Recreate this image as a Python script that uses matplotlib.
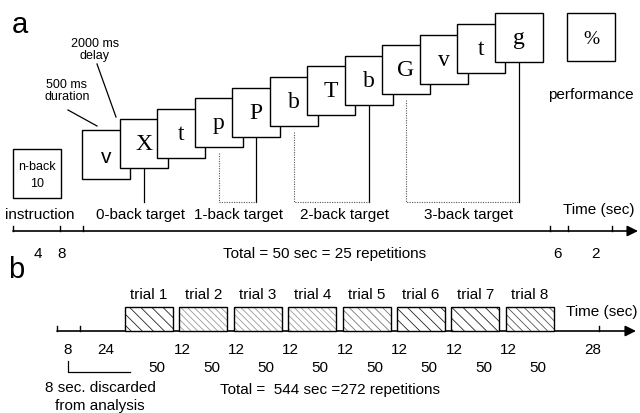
import matplotlib
matplotlib.use("Agg")
import matplotlib.pyplot as plt
from matplotlib.patches import Rectangle

plt.rcParams['font.family'] = ['Liberation Sans', 'DejaVu Sans']
plt.rcParams['hatch.linewidth'] = 0.6

# --- данные схемы ---
letters = ['v', 'X', 't', 'p', 'P', 'b', 'T', 'b', 'G', 'v', 't', 'g']
targets = ['0-back target', '1-back target', '2-back target', '3-back target']
target_pairs = [(1, 1), (3, 4), (5, 7), (8, 11)]
ticks_a = ['4', '8', '6', '2']
total_a = 'Total = 50 sec = 25 repetitions'

trials = ['trial 1', 'trial 2', 'trial 3', 'trial 4',
          'trial 5', 'trial 6', 'trial 7', 'trial 8']
rest_b = ['12'] * 7
block_b = ['50'] * 8
ticks_b = ['8', '24', '28']
total_b = 'Total =  544 sec =272 repetitions'

fig = plt.figure(figsize=(6.4, 4.14), dpi=100)
ax = fig.add_axes([0, 0, 1, 1])
ax.set_xlim(0, 640)
ax.set_ylim(414, 0)
ax.axis('off')

fs = 11
serif = ['Liberation Serif', 'DejaVu Serif']

# ---------------- панель a ----------------
ax.text(12, 25, 'a', fontsize=21, va='center', ha='left')

# стимулы лесенкой
bw, bh = 48, 49
x0, y0, dx, dy = 82, 131, 37.5, -10.6
centers = []
for i, ch in enumerate(letters):
    x = x0 + i * dx
    y = y0 + i * dy
    ax.add_patch(Rectangle((x, y), bw, bh, facecolor='white', edgecolor='k',
                           lw=1.0, zorder=2 + i))
    if i == 0:
        ax.text(x + bw / 2, y + bh / 2 + 2, ch, fontsize=15, ha='center',
                va='center', zorder=2 + i)
    else:
        ax.text(x + bw / 2, y + bh / 2, ch, fontsize=17, family=serif,
                ha='center', va='center', zorder=2 + i)
    centers.append((x + bw / 2, y + bh))

# линии целей
ybot = 203
for k, (a, b) in enumerate(target_pairs):
    xb, yb = centers[b]
    ax.plot([xb, xb], [yb, ybot], color='k', lw=0.9, zorder=1)
    if a != b:
        xa, ya = centers[a]
        ax.plot([xa, xa, xb], [ya + 6, ybot, ybot], color='#555', lw=0.8,
                ls=(0, (1, 1.2)), zorder=1)

# инструкция и результат
ax.add_patch(Rectangle((13, 150), 48, 49, facecolor='white', edgecolor='k', lw=1.0))
ax.text(37, 167, 'n-back', fontsize=9, ha='center', va='center')
ax.text(37, 184, '10', fontsize=9, ha='center', va='center')
ax.add_patch(Rectangle((567, 14), 48, 48, facecolor='white', edgecolor='k', lw=1.0))
ax.text(591, 39, '%', fontsize=14, family=serif, ha='center', va='center')
ax.text(591, 95, 'performance', fontsize=fs, ha='center', va='center')

# пояснения
ax.text(95, 50, '2000 ms\ndelay', fontsize=9, ha='center', va='center',
        linespacing=1.1)
ax.plot([97, 116], [65, 118], color='k', lw=0.9)
ax.text(67, 91, '500 ms\nduration', fontsize=9, ha='center', va='center',
        linespacing=1.1)
ax.plot([68, 97], [111, 127], color='k', lw=0.9)

# подписи целей
ax.text(40, 215, 'instruction', fontsize=fs, ha='center', va='center')
for lab, xc in zip(targets, [141, 238, 345, 468]):
    ax.text(xc, 215, lab, fontsize=fs, ha='center', va='center')
ax.text(599, 210, 'Time (sec)', fontsize=fs, ha='center', va='center')

# ось времени a
ya = 232
ax.annotate('', xy=(638, ya), xytext=(13, ya),
            arrowprops=dict(arrowstyle='-|>', mutation_scale=16, lw=1.2,
                            color='k', shrinkA=0, shrinkB=0))
for xt in [13, 60, 83, 550, 568, 612]:
    ax.plot([xt, xt], [ya, ya - 5], color='k', lw=1.0)
for lab, xt in zip(ticks_a, [38, 62, 557, 595]):
    ax.text(xt, 254, lab, fontsize=fs, ha='center', va='center')
ax.text(325, 254, total_a, fontsize=fs, ha='center', va='center')

# ---------------- панель b ----------------
ax.text(8, 270, 'b', fontsize=21, va='center', ha='left')

yb = 332
ax.annotate('', xy=(636, yb), xytext=(57, yb),
            arrowprops=dict(arrowstyle='-|>', mutation_scale=16, lw=1.2,
                            color='k', shrinkA=0, shrinkB=0))
for xt in [57, 80, 599]:
    ax.plot([xt, xt], [yb, yb - 5], color='k', lw=1.0)

patterns = ['\\\\\\', '\\\\\\\\\\', '\\\\\\\\\\', '\\\\\\\\\\',
            '\\\\\\\\', '\\\\\\', '\\\\\\', '\\\\\\\\']
hcolors = ['#222', '#999', '#999', '#999', '#777', '#222', '#222', '#555']
tw, th, tstep = 48, 24, 54.4
for i, name in enumerate(trials):
    x = 125 + i * tstep
    ax.add_patch(Rectangle((x, yb - th), tw, th, facecolor='white',
                           edgecolor=hcolors[i], hatch=patterns[i], lw=0, zorder=3))
    ax.add_patch(Rectangle((x, yb - th), tw, th, fill=False, edgecolor='k',
                           lw=1.0, zorder=4))
    ax.text(x + tw / 2, 295, name, fontsize=fs, ha='center', va='center')
    ax.text(x + tw / 2 + 8, 368, block_b[i], fontsize=fs, ha='center', va='center')
    if i < len(rest_b):
        ax.text(x + tw + 9, 350, rest_b[i], fontsize=fs, ha='center', va='center')

for lab, xt in zip(ticks_b, [68, 106, 593]):
    ax.text(xt, 350, lab, fontsize=fs, ha='center', va='center')
ax.text(638, 312, 'Time (sec)', fontsize=fs, ha='right', va='center')

ax.plot([68, 68, 130], [362, 373, 373], color='k', lw=0.9)
ax.text(100, 388, '8 sec. discarded', fontsize=fs, ha='center', va='center')
ax.text(100, 406, 'from analysis', fontsize=fs, ha='center', va='center')
ax.text(330, 390, total_b, fontsize=fs, ha='center', va='center')

fig.savefig('out.png', dpi=100)
